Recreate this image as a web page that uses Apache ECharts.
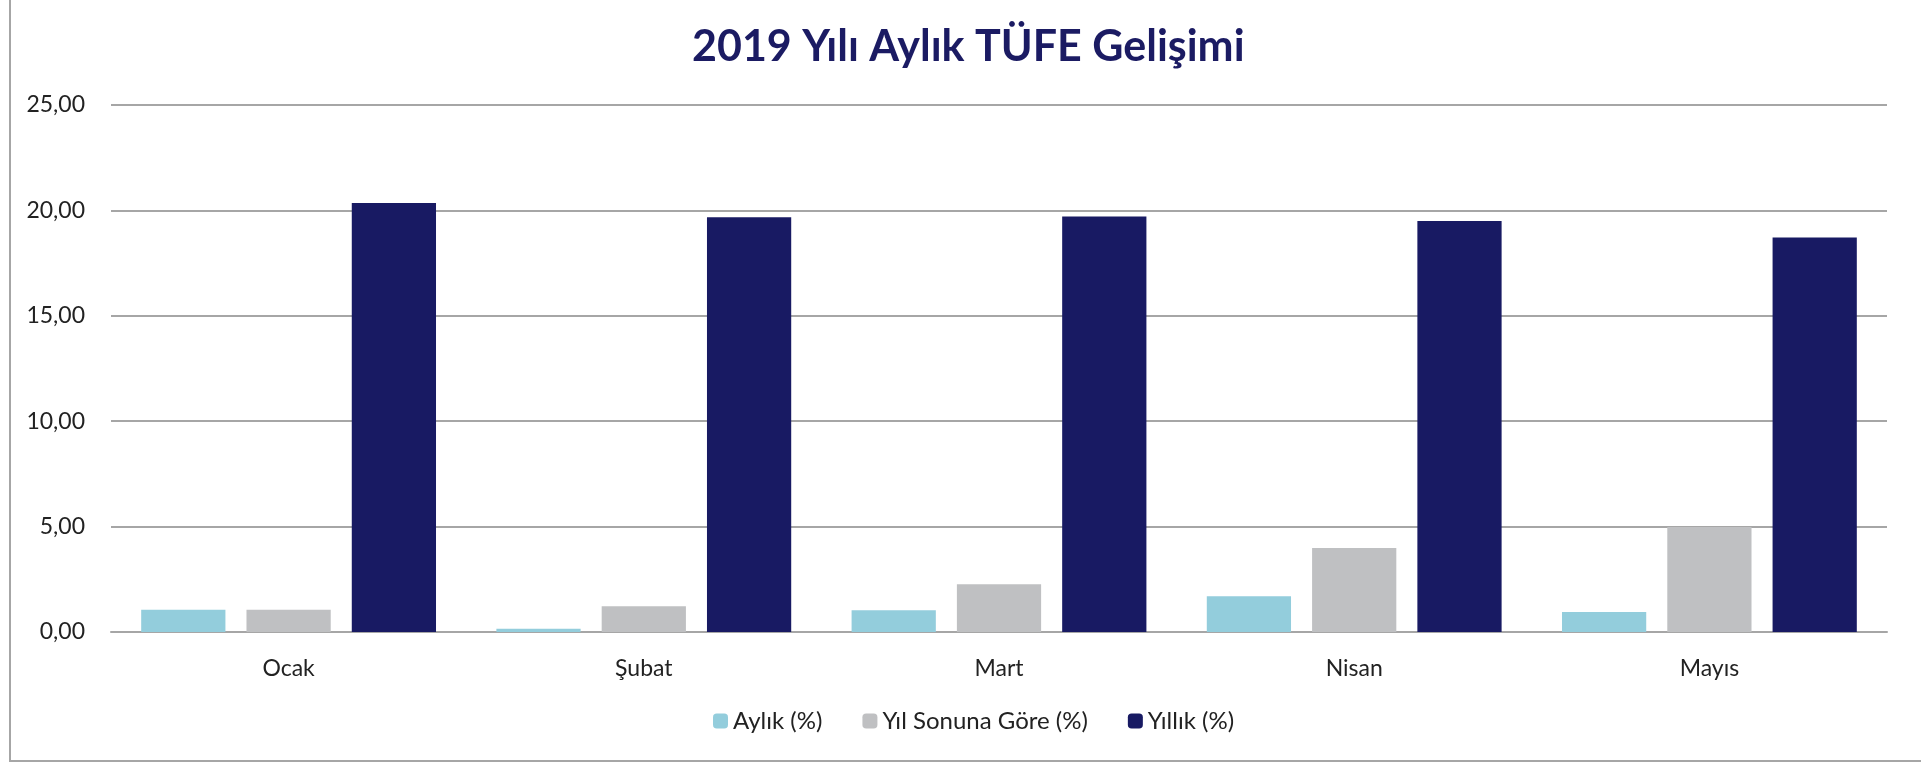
<!DOCTYPE html>
<html>
<head>
<meta charset="utf-8">
<script src="https://cdn.jsdelivr.net/npm/echarts@6/dist/echarts.min.js"></script>
<style>
  html, body { margin: 0; padding: 0; background: #fff; }
  #chart { width: 1921px; height: 764px; }
</style>
</head>
<body>
<div id="chart"></div>
<script>
const months = ['Ocak', 'Şubat', 'Mart', 'Nisan', 'Mayıs'];
const aylik = [1.06, 0.16, 1.03, 1.69, 0.95];
const yilSonunaGore = [1.06, 1.22, 2.26, 3.99, 4.98];
const yillik = [20.35, 19.67, 19.71, 19.50, 18.71];
const yTicks = [0, 5, 10, 15, 20, 25];

const chart = echarts.init(document.getElementById('chart'));

const fontFamily = 'Lato';

chart.setOption({
  animation: false,
  title: {
    text: '2019 Yılı Aylık TÜFE Gelişimi',
    left: 687,
    top: 21,
    textStyle: { fontFamily, fontSize: 43, fontWeight: 'bold', color: '#1b1b63' }
  },
  graphic: [{
    type: 'rect',
    shape: { x: 10, y: -10, width: 1940, height: 771 },
    style: { fill: 'none', stroke: '#a6a6a6', lineWidth: 2 }
  }],
  legend: {
    bottom: 26,
    left: 708,
    itemWidth: 15,
    itemHeight: 15,
    itemGap: 40,
    textStyle: { fontFamily, fontSize: 24, color: '#222' },
    data: ['Aylık (%)', 'Yıl Sonuna Göre (%)', 'Yıllık (%)']
  },
  grid: { left: 111, right: 34, top: 105, bottom: 132 },
  xAxis: {
    type: 'category',
    data: months,
    axisTick: { show: false },
    axisLine: { lineStyle: { color: '#a6a6a6', width: 2 } },
    axisLabel: { fontFamily, fontSize: 23, color: '#222', margin: 25 }
  },
  yAxis: {
    type: 'value',
    min: yTicks[0],
    max: yTicks[yTicks.length - 1],
    interval: 5,
    axisLine: { show: false },
    axisTick: { show: false },
    splitLine: { lineStyle: { color: '#a6a6a6', width: 2 } },
    axisLabel: {
      fontFamily, fontSize: 23, color: '#222', margin: 26,
      formatter: v => v.toFixed(2).replace('.', ',')
    }
  },
  series: [
    { name: 'Aylık (%)', type: 'bar', data: aylik, itemStyle: { color: '#93cddc' },
      barGap: '25%', barCategoryGap: '17%' },
    { name: 'Yıl Sonuna Göre (%)', type: 'bar', data: yilSonunaGore, itemStyle: { color: '#bfc0c2' } },
    { name: 'Yıllık (%)', type: 'bar', data: yillik, itemStyle: { color: '#181a63' } }
  ]
});
</script>
</body>
</html>
